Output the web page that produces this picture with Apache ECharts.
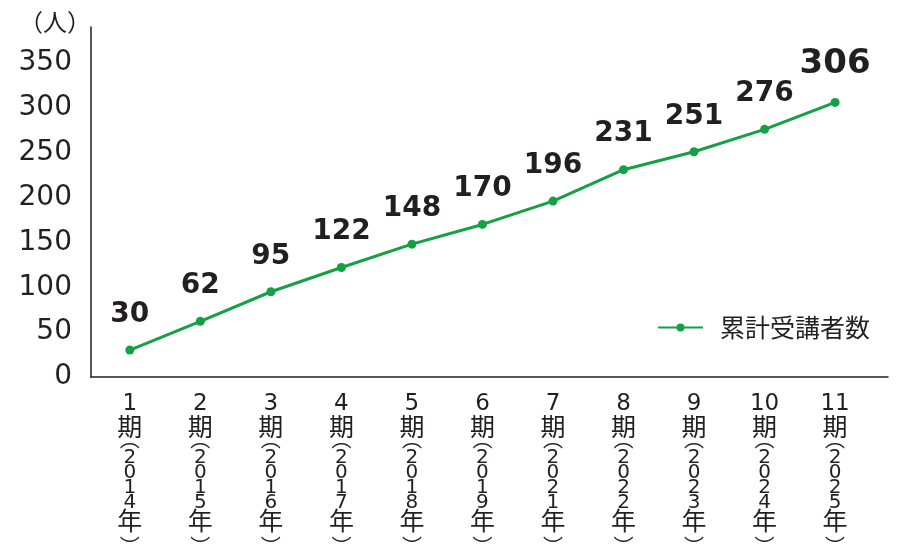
<!DOCTYPE html>
<html>
<head>
<meta charset="utf-8">
<script src="https://cdn.jsdelivr.net/npm/echarts@6/dist/echarts.min.js"></script>
<style>html,body{margin:0;padding:0;background:#fff}#c{width:900px;height:560px}</style>
</head>
<body>
<div id="c"></div>
<script>
var periods = ['1', '2', '3', '4', '5', '6', '7', '8', '9', '10', '11'];
var years = ['2014', '2015', '2016', '2017', '2018', '2019', '2021', '2022', '2023', '2024', '2025'];
var cumulative = [30, 62, 95, 122, 148, 170, 196, 231, 251, 276, 306];
var seriesName = '累計受講者数';
var yUnit = '（人）';

var ink = '#231f20';
var green = '#14a044';

function xLabel(i) {
  var s = '{n|' + periods[i] + '}\n{k|期}\n{p|︵}';
  var y = years[i];
  for (var j = 0; j < y.length; j++) s += '\n{d|' + y[j] + '}';
  s += '\n{f|年}\n{q|︶}';
  return s;
}

var data = cumulative.map(function (v, i) {
  var item = { value: [i + 1, v] };
  if (i === cumulative.length - 1) {
    item.label = { fontSize: 34 };
  }
  return item;
});

var chart = echarts.init(document.getElementById('c'));
chart.setOption({
  animation: false,
  grid: { left: 91, right: 12, top: 27, bottom: 183 },
  legend: {
    data: [seriesName],
    left: 652,
    top: 310,
    itemWidth: 45,
    itemHeight: 10,
    textStyle: { fontSize: 25, color: ink, fontFamily: 'Noto Sans CJK JP', padding: [0, 0, 0, 12] }
  },
  xAxis: {
    type: 'value',
    min: 0.45,
    max: 11.75,
    interval: 0.05,
    axisLine: { show: true, lineStyle: { color: ink, width: 1.5 } },
    axisTick: { show: false },
    splitLine: { show: false },
    axisLabel: {
      margin: 12,
      verticalAlign: 'top',
      formatter: function (v) {
        var r = Math.round(v);
        if (Math.abs(v - r) < 1e-6 && r >= 1 && r <= periods.length) return xLabel(r - 1);
        return '';
      },
      rich: {
        n: { fontSize: 23, lineHeight: 30, fontFamily: 'DejaVu Sans', color: ink, align: 'center' },
        k: { fontSize: 25, lineHeight: 14, fontFamily: 'Noto Sans CJK JP', color: ink, align: 'center' },
        p: { fontSize: 20, lineHeight: 17.6, padding: [0, 0, 4, 0], fontFamily: 'Noto Sans CJK JP', color: ink, align: 'center' },
        d: { fontSize: 20, lineHeight: 15, fontFamily: 'DejaVu Sans', color: ink, align: 'center' },
        f: { fontSize: 25, lineHeight: 19, fontFamily: 'Noto Sans CJK JP', color: ink, align: 'center' },
        q: { fontSize: 20, lineHeight: 10, padding: [24, 0, 0, 0], fontFamily: 'Noto Sans CJK JP', color: ink, align: 'center' }
      }
    }
  },
  yAxis: {
    type: 'value',
    min: 0,
    max: 390,
    interval: 50,
    name: yUnit,
    nameLocation: 'end',
    nameGap: 5,
    nameTextStyle: { fontSize: 24, color: ink, fontFamily: 'Noto Sans CJK JP', align: 'right', verticalAlign: 'middle' },
    axisLine: { show: true, lineStyle: { color: ink, width: 1.5 } },
    axisTick: { show: false },
    splitLine: { show: false },
    axisLabel: {
      margin: 19,
      fontSize: 28,
      padding: [6, 0, 0, 0],
      fontFamily: 'DejaVu Sans',
      color: ink,
      formatter: function (v) { return v % 50 === 0 ? String(v) : ''; }
    }
  },
  series: [{
    name: seriesName,
    type: 'line',
    data: data,
    symbol: 'circle',
    symbolSize: 9,
    lineStyle: { color: green, width: 3 },
    itemStyle: { color: green },
    label: {
      show: true,
      position: 'top',
      distance: 17,
      fontSize: 28,
      fontWeight: 'bold',
      fontFamily: 'DejaVu Sans',
      color: ink,
      formatter: function (p) { return p.value[1]; }
    }
  }]
});
</script>
</body>
</html>
